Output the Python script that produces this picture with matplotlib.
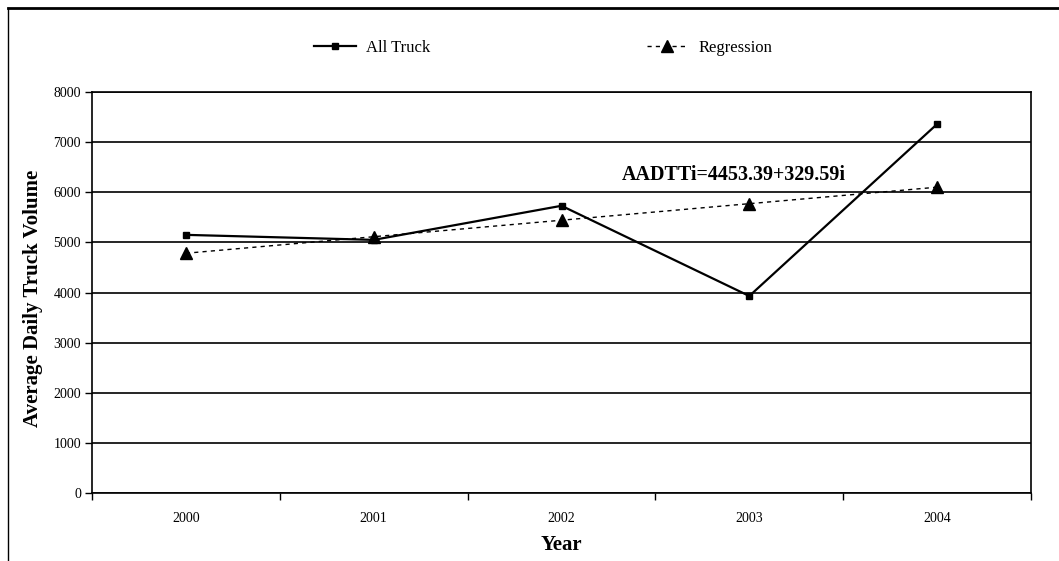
import numpy as np
import matplotlib
matplotlib.use('Agg')
import matplotlib.pyplot as plt
from matplotlib.lines import Line2D

plt.rcParams['font.family'] = ['Liberation Serif', 'DejaVu Serif']

years = ['2000', '2001', '2002', '2003', '2004']
all_truck = [5150, 5050, 5730, 3930, 7360]
regression = [4783, 5113, 5442, 5772, 6101]
yticks = [0, 1000, 2000, 3000, 4000, 5000, 6000, 7000, 8000]
eq_text = 'AADTTi=4453.39+329.59i'

fig = plt.figure(figsize=(10.59, 5.61), dpi=100)
ax = fig.add_axes([92/1059, 1-493/561, (1031-92)/1059, (493-92)/561])

x = np.arange(len(years))
ax.plot(x, all_truck, color='black', lw=1.6, marker='s', ms=4.5, label='All Truck')
ax.plot(x, regression, color='black', lw=1.0, dashes=(3, 3), marker='^', ms=8.5,
        label='Regression')

ax.set_xlim(-0.5, len(years)-0.5)
ax.set_ylim(0, 8000)
ax.set_yticks(yticks)
ax.set_xticks(x)
ax.set_xticklabels(years)
ax.set_xticks(np.arange(len(years)+1)-0.5, minor=True)
ax.tick_params(axis='x', which='major', length=0, pad=14, labelsize=10)
ax.tick_params(axis='x', which='minor', length=5, width=1.0, direction='out')
ax.tick_params(axis='y', length=5, width=1.0, direction='out', labelsize=10, pad=3)
ax.grid(axis='y', color='black', lw=1.2)
ax.set_axisbelow(True)
for s in ax.spines.values():
    s.set_linewidth(1.2)
    s.set_color('black')

ax.set_xlabel('Year', fontsize=15, fontweight='bold', labelpad=7)
ax.set_ylabel('Average Daily Truck Volume', fontsize=15, fontweight='bold')
ax.yaxis.set_label_coords(-0.052, 0.485)

ax.text(2.32, 6350, eq_text, fontsize=14.4, fontweight='bold', va='center', ha='left')

fig.legend(loc='center', bbox_to_anchor=(543/1059, 1-48/561), ncol=2, frameon=False,
           fontsize=12, handlelength=2.5, handletextpad=0.6, columnspacing=13)

# outer frame
fig.add_artist(Line2D([8/1059, 1], [1-8/561, 1-8/561], color='black', lw=2.0,
                      transform=fig.transFigure))
fig.add_artist(Line2D([8/1059, 8/1059], [0, 1-8/561], color='black', lw=1.0,
                      transform=fig.transFigure))

fig.savefig('out.png', dpi=100)
